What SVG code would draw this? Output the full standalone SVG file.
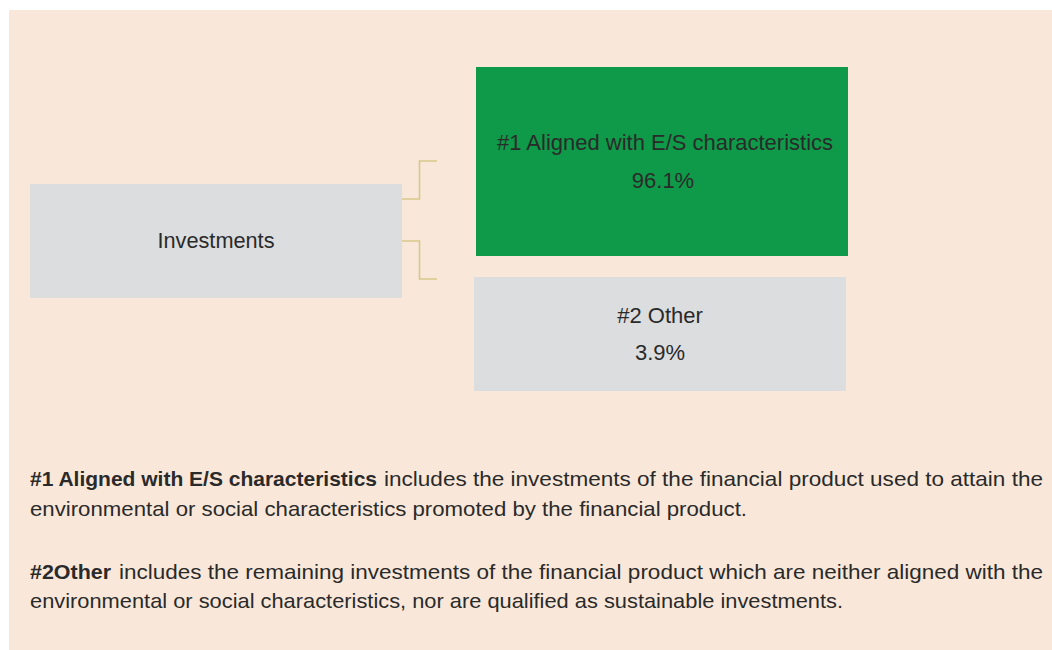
<svg xmlns="http://www.w3.org/2000/svg" width="1052" height="650" viewBox="0 0 1052 650">
  <style>
    .t { font-family: "Liberation Sans", Arial, sans-serif; fill: #2a2a2a; }
    .node { font-size: 22px; text-anchor: middle; }
    .para { font-size: 21px; }
    .b { font-weight: bold; }
    .conn { fill: none; stroke: #d6c88a; stroke-width: 1.6; }
  </style>
  <rect x="0" y="0" width="1052" height="650" fill="#ffffff"/>
  <rect x="9" y="10" width="1043" height="640" fill="#f9e8da"/>

  <g id="connectors">
    <path class="conn" d="M402,199 H419.5 V161 H437"/>
    <path class="conn" d="M402,241 H419.5 V279 H437"/>
  </g>

  <g id="investments">
    <rect x="30" y="184" width="372" height="114" fill="#dcdddf"/>
    <text class="t node" x="216" y="248" textLength="117" lengthAdjust="spacingAndGlyphs">Investments</text>
  </g>

  <g id="aligned">
    <rect x="476" y="67" width="372" height="189" fill="#0e9a48"/>
    <text class="t node" x="665" y="150" textLength="336" lengthAdjust="spacingAndGlyphs">#1 Aligned with E/S characteristics</text>
    <text class="t node" x="663" y="188">96.1%</text>
  </g>

  <g id="other">
    <rect x="474" y="277" width="372" height="114" fill="#dcdddf"/>
    <text class="t node" x="660" y="323">#2 Other</text>
    <text class="t node" x="660" y="360">3.9%</text>
  </g>

  <g id="legend">
    <text class="t para b" x="30" y="486" textLength="347" lengthAdjust="spacingAndGlyphs">#1 Aligned with E/S characteristics</text>
    <text class="t para" x="384" y="486" textLength="659" lengthAdjust="spacingAndGlyphs">includes the investments of the financial product used to attain the</text>
    <text class="t para" x="30" y="516" textLength="717" lengthAdjust="spacingAndGlyphs">environmental or social characteristics promoted by the financial product.</text>
    <text class="t para b" x="30" y="579" textLength="81" lengthAdjust="spacingAndGlyphs">#2Other</text>
    <text class="t para" x="119" y="579" textLength="924" lengthAdjust="spacingAndGlyphs">includes the remaining investments of the financial product which are neither aligned with the</text>
    <text class="t para" x="30" y="608" textLength="813" lengthAdjust="spacingAndGlyphs">environmental or social characteristics, nor are qualified as sustainable investments.</text>
  </g>
</svg>
